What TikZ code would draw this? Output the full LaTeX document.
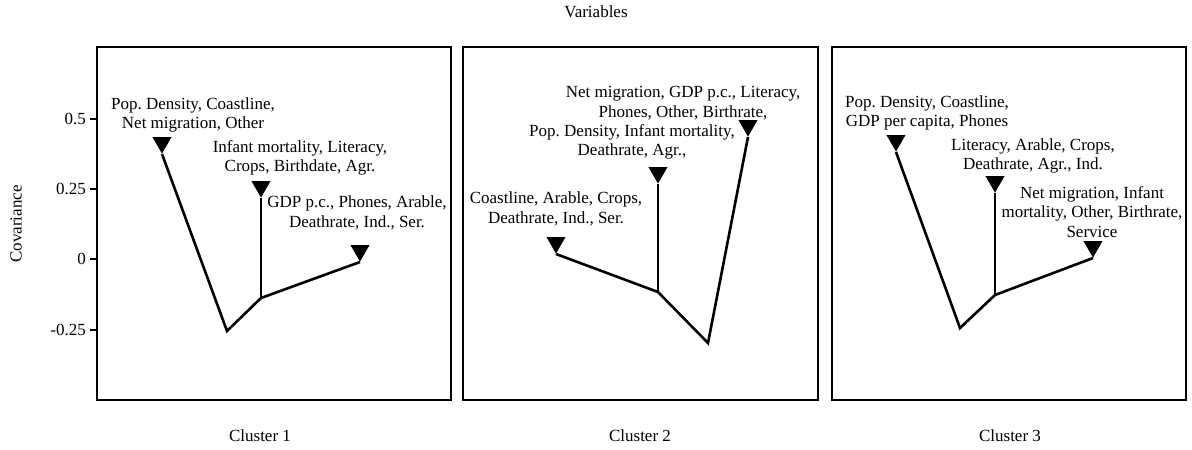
\documentclass[tikz,border=0pt]{standalone}
\usepackage{fontspec}
\setmainfont{Liberation Serif}
\usetikzlibrary{positioning,shapes.geometric}
\frenchspacing

\begin{document}
\begin{tikzpicture}[
  x=1pt, y=-1pt,
  every node/.style={font=\fontsize{17}{19.5}\selectfont},
  panel/.style={draw=black, line width=2.6pt},
  branch/.style={line width=2.6pt, line join=miter},
  leaf/.style={
    regular polygon, regular polygon sides=3, shape border rotate=180,
    fill=black, inner sep=0pt, minimum size=22pt, anchor=corner 1
  },
  lbl/.style={align=center, inner sep=0pt},
  tickmark/.style={line width=2pt}
]
\useasboundingbox (0,0) rectangle (1192,450);

% titles
\node (title) at (596,12) {Variables};
\node[rotate=90] (ylab) at (16,224) {Covariance};

% axis ticks
\foreach \v/\y [count=\i] in {0.5/119, 0.25/189, 0/259, -0.25/330} {
  \draw[tickmark] (90,\y) -- (97,\y);
  \node[anchor=east, inner sep=0pt] (tk\i) at (86,\y) {\v};
}

% panels
\draw[panel] (97,47) rectangle (451,400);
\draw[panel] (463,47) rectangle (818,400);
\draw[panel] (832,47) rectangle (1186,400);

\node (cl1) at (260,436) {Cluster 1};
\node (cl2) at (640,436) {Cluster 2};
\node (cl3) at (1010,436) {Cluster 3};

% cluster 1
\coordinate (r1) at (227,331);
\coordinate (f1) at (261,298);
\node[leaf] (a1) at (162,154) {};
\node[leaf] (b1) at (261,198) {};
\node[leaf] (c1) at (360,262) {};
\draw[branch] (a1.corner 1) -- (r1) -- (f1) -- (c1.corner 1);
\draw[branch] (f1) -- (b1.corner 1);
\node[lbl] (la1) at (193,115) {Pop. Density, Coastline,\\Net migration, Other};
\node[lbl] (lb1) at (300,158) {Infant mortality, Literacy,\\Crops, Birthdate, Agr.};
\node[lbl] (lc1) at (357,213) {GDP p.c., Phones, Arable,\\Deathrate, Ind., Ser.};

% cluster 2
\coordinate (r2) at (708,343);
\coordinate (f2) at (658,292);
\node[leaf] (a2) at (556,254) {};
\node[leaf] (b2) at (658,184) {};
\node[leaf] (c2) at (748,137) {};
\draw[branch] (a2.corner 1) -- (f2) -- (r2) -- (c2.corner 1);
\draw[branch] (f2) -- (b2.corner 1);
\node[lbl] (la2) at (556,209) {Coastline, Arable, Crops,\\Deathrate, Ind., Ser.};
\node[lbl] (lb2) at (632,142) {Pop. Density, Infant mortality,\\Deathrate, Agr.,};
\node[lbl] (lc2) at (683,103) {Net migration, GDP p.c., Literacy,\\Phones, Other, Birthrate,};

% cluster 3
\coordinate (r3) at (960,328);
\coordinate (f3) at (995,295);
\node[leaf] (a3) at (896,152) {};
\node[leaf] (b3) at (995,193) {};
\node[leaf] (c3) at (1093,258) {};
\draw[branch] (a3.corner 1) -- (r3) -- (f3) -- (c3.corner 1);
\draw[branch] (f3) -- (b3.corner 1);
\node[lbl] (la3) at (927,113) {Pop. Density, Coastline,\\GDP per capita, Phones};
\node[lbl] (lb3) at (1033,156) {Literacy, Arable, Crops,\\Deathrate, Agr., Ind.};
\node[lbl] (lc3) at (1092,212) {Net migration, Infant\\mortality, Other, Birthrate,\\Service};

\end{tikzpicture}
\end{document}
